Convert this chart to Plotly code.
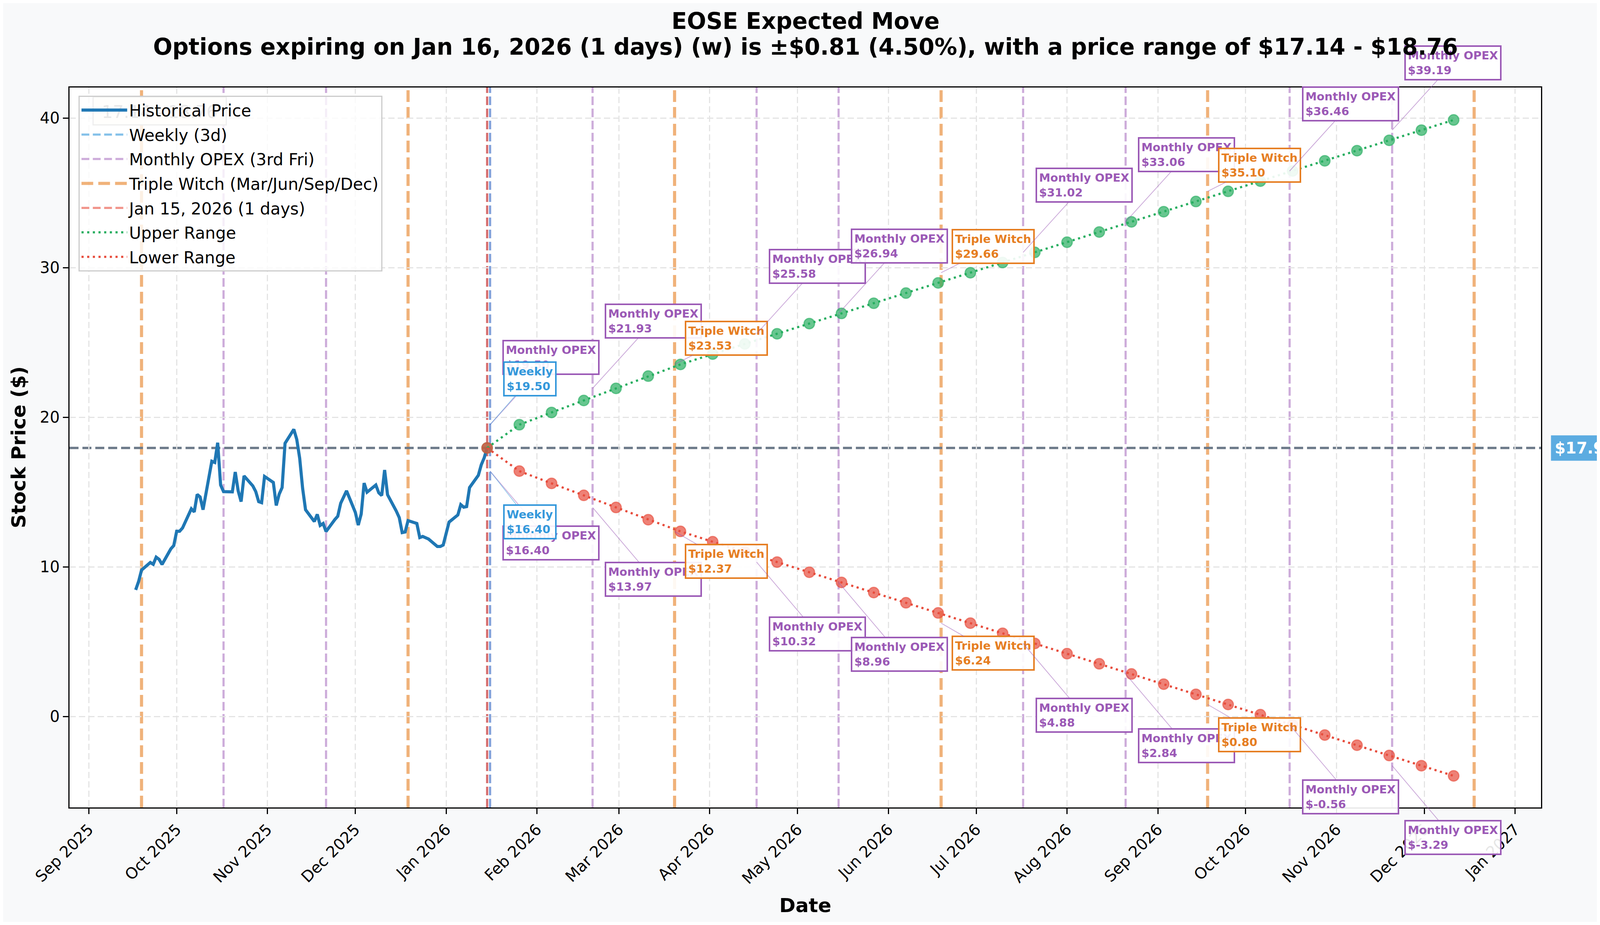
import plotly.graph_objects as go

# historical closes
hist_dates = [
    "2025-09-17", "2025-09-18", "2025-09-19", "2025-09-22", "2025-09-23", "2025-09-24",
    "2025-09-25", "2025-09-26", "2025-09-29", "2025-09-30", "2025-10-01", "2025-10-02",
    "2025-10-03", "2025-10-06", "2025-10-07", "2025-10-08", "2025-10-09", "2025-10-10",
    "2025-10-13", "2025-10-14", "2025-10-15", "2025-10-16", "2025-10-17", "2025-10-20",
    "2025-10-21", "2025-10-22", "2025-10-23", "2025-10-24", "2025-10-27", "2025-10-28",
    "2025-10-29", "2025-10-30", "2025-10-31", "2025-11-03", "2025-11-04", "2025-11-05",
    "2025-11-06", "2025-11-07", "2025-11-10", "2025-11-11", "2025-11-12", "2025-11-13",
    "2025-11-14", "2025-11-17", "2025-11-18", "2025-11-19", "2025-11-20", "2025-11-21",
    "2025-11-24", "2025-11-25", "2025-11-26", "2025-11-28", "2025-12-01", "2025-12-02",
    "2025-12-03", "2025-12-04", "2025-12-05", "2025-12-08", "2025-12-09", "2025-12-10",
    "2025-12-11", "2025-12-12", "2025-12-15", "2025-12-16", "2025-12-17", "2025-12-18",
    "2025-12-19", "2025-12-22", "2025-12-23", "2025-12-24", "2025-12-26", "2025-12-29",
    "2025-12-30", "2025-12-31", "2026-01-02", "2026-01-05", "2026-01-06", "2026-01-07",
    "2026-01-08", "2026-01-09", "2026-01-12", "2026-01-13", "2026-01-14", "2026-01-15",
]
hist_prices = [
    8.46, 9.02, 9.78, 10.29, 10.17, 10.65,
    10.50, 10.16, 11.20, 11.42, 12.38, 12.38,
    12.60, 13.88, 13.67, 14.84, 14.67, 13.82,
    17.06, 16.98, 18.30, 15.47, 15.03, 15.01,
    16.34, 15.08, 14.36, 16.08, 15.41, 15.03,
    14.36, 14.29, 16.04, 15.64, 14.10, 14.86,
    15.30, 18.26, 19.19, 18.52, 17.26, 15.25,
    13.82, 13.03, 13.51, 12.77, 12.90, 12.36,
    13.16, 13.38, 14.25, 15.08, 13.64, 12.79,
    13.53, 15.60, 14.99, 15.47, 14.95, 14.77,
    16.47, 14.82, 13.72, 13.29, 12.29, 12.33,
    13.09, 12.90, 11.96, 12.03, 11.86, 11.36,
    11.36, 11.46, 12.99, 13.47, 14.16, 13.99,
    14.03, 15.30, 16.12, 16.82, 17.29, 17.95,
]

# projected range points
range_dates = [
    "2026-01-15", "2026-01-26", "2026-02-06", "2026-02-17", "2026-02-28", "2026-03-11",
    "2026-03-22", "2026-04-02", "2026-04-13", "2026-04-24", "2026-05-05", "2026-05-16",
    "2026-05-27", "2026-06-07", "2026-06-18", "2026-06-29", "2026-07-10", "2026-07-21",
    "2026-08-01", "2026-08-12", "2026-08-23", "2026-09-03", "2026-09-14", "2026-09-25",
    "2026-10-06", "2026-10-17", "2026-10-28", "2026-11-08", "2026-11-19", "2026-11-30",
    "2026-12-11",
]
upper_range = [
    17.95, 19.50, 20.32, 21.12, 21.93, 22.75, 23.53, 24.22, 24.90, 25.58, 26.26,
    26.94, 27.62, 28.30, 28.98, 29.66, 30.34, 31.02, 31.70, 32.38, 33.06, 33.74,
    34.42, 35.10, 35.78, 36.46, 37.14, 37.82, 38.51, 39.19, 39.87,
]
lower_range = [
    17.95, 16.40, 15.58, 14.78, 13.97, 13.15, 12.37, 11.68, 11.00, 10.32, 9.64,
    8.96, 8.28, 7.60, 6.92, 6.24, 5.56, 4.88, 4.20, 3.52, 2.84, 2.16,
    1.48, 0.80, 0.12, -0.56, -1.24, -1.92, -2.61, -3.29, -3.97,
]

current_price = 17.95
today = "2026-01-15"
weekly_exp = "2026-01-16"

opex_dates = ["2025-10-17", "2025-11-21", "2026-01-16", "2026-02-20", "2026-04-17",
              "2026-05-15", "2026-07-17", "2026-08-21", "2026-10-16", "2026-11-20"]
witch_dates = ["2025-09-19", "2025-12-19", "2026-03-20", "2026-06-19", "2026-09-18",
               "2026-12-18"]

label_dates = ["2026-01-16", "2026-01-16", "2026-02-20", "2026-03-20", "2026-04-17",
               "2026-05-15", "2026-06-19", "2026-07-17", "2026-08-21", "2026-09-18",
               "2026-10-16", "2026-11-20"]
label_kinds = ["Monthly OPEX", "Weekly", "Monthly OPEX", "Triple Witch", "Monthly OPEX",
               "Monthly OPEX", "Triple Witch", "Monthly OPEX", "Monthly OPEX",
               "Triple Witch", "Monthly OPEX", "Monthly OPEX"]
label_upper = [19.50, 19.50, 21.93, 23.53, 25.58, 26.94, 29.66, 31.02, 33.06, 35.10,
               36.46, 39.19]
label_lower = [16.40, 16.40, 13.97, 12.37, 10.32, 8.96, 6.24, 4.88, 2.84, 0.80,
               -0.56, -3.29]

FONT = "DejaVu Sans"
OPEX_C = "#9b59b6"
WITCH_C = "#e67e22"
WEEK_C = "#3498db"

# kind -> colour, line rgba, box offsets (dx, dy up, dy down) in px
kind_style = {
    "Monthly OPEX": (OPEX_C, "rgba(155,89,182,0.5)", 156, -172, 184),
    "Triple Witch": (WITCH_C, "rgba(155,89,182,0.5)", 133, -67, 77),
    "Weekly": (WEEK_C, "rgba(52,152,219,0.5)", 102, -117, 130),
}

fig = go.Figure()

fig.add_trace(go.Scatter(x=hist_dates, y=hist_prices, mode="lines", name="Historical Price",
                         legendgroup="hist", line=dict(color="#1f77b4", width=8)))

# legend-only entries for the vertical markers
legend_lines = [
    ("Weekly (3d)", "rgba(52,152,219,0.6)", 5.5, "20px,9px"),
    ("Monthly OPEX (3rd Fri)", "rgba(155,89,182,0.5)", 5.5, "20px,9px"),
    ("Triple Witch (Mar/Jun/Sep/Dec)", "rgba(230,126,34,0.6)", 8, "30px,13px"),
    ("Jan 15, 2026 (1 days)", "rgba(231,76,60,0.6)", 5.5, "20px,9px"),
]
for name, col, w, dash in legend_lines:
    fig.add_trace(go.Scatter(x=[None], y=[None], mode="lines", name=name, legendgroup=name,
                             line=dict(color=col, width=w, dash=dash)))

# dots first, dotted lines on top
fig.add_trace(go.Scatter(x=range_dates, y=upper_range, mode="markers", showlegend=False,
                         marker=dict(size=27, color="rgba(39,174,96,0.7)",
                                     line=dict(color="rgba(39,174,96,0.6)", width=3))))
fig.add_trace(go.Scatter(x=range_dates, y=lower_range, mode="markers", showlegend=False,
                         marker=dict(size=27, color="rgba(231,76,60,0.7)",
                                     line=dict(color="rgba(231,76,60,0.6)", width=3))))
fig.add_trace(go.Scatter(x=range_dates, y=upper_range, mode="lines", name="Upper Range",
                         legendgroup="up", line=dict(color="#27ae60", width=5.5, dash="5.5px,9px")))
fig.add_trace(go.Scatter(x=range_dates, y=lower_range, mode="lines", name="Lower Range",
                         legendgroup="lo", line=dict(color="#e74c3c", width=5.5, dash="5.5px,9px")))

shapes = []
for d in witch_dates:
    shapes.append(dict(type="line", xref="x", yref="paper", x0=d, x1=d, y0=0, y1=1, layer="below",
                       line=dict(color="rgba(230,126,34,0.6)", width=8, dash="30px,13px")))
for d in opex_dates:
    shapes.append(dict(type="line", xref="x", yref="paper", x0=d, x1=d, y0=0, y1=1, layer="below",
                       line=dict(color="rgba(155,89,182,0.5)", width=5.5, dash="22px,9px")))
shapes.append(dict(type="line", xref="x", yref="paper", x0=weekly_exp, x1=weekly_exp, y0=0, y1=1,
                   layer="below", line=dict(color="rgba(52,152,219,0.5)", width=5.5, dash="22px,9px")))
shapes.append(dict(type="line", xref="x", yref="paper", x0=today, x1=today, y0=0, y1=1,
                   layer="below", line=dict(color="rgba(200,60,60,0.75)", width=5.5, dash="22px,9px")))
shapes.append(dict(type="line", xref="paper", yref="y", x0=0, x1=1, y0=current_price, y1=current_price,
                   layer="below", line=dict(color="#6c7a89", width=6, dash="23px,10px")))
# faint range badge sitting behind the legend
shapes.append(dict(type="rect", xref="paper", yref="paper", x0=0.016, x1=0.1065, y0=0.948, y1=0.987,
                   layer="above", fillcolor="rgba(255,250,235,0.9)", line=dict(color="#aaaaaa", width=3),
                   label=dict(text="17.14 - 18.76", font=dict(family=FONT, size=44, color="#8a8a8a"))))

annotations = []
for d, kind, up, lo in zip(label_dates, label_kinds, label_upper, label_lower):
    col, lcol, dx, dyu, dyd = kind_style[kind]
    for val, dy in ((up, dyu), (lo, dyd)):
        annotations.append(dict(
            x=d, y=val, xref="x", yref="y", ax=dx, ay=dy,
            text=f"{kind}<br>${val:.2f}", align="left",
            xanchor="center", yanchor="middle",
            showarrow=True, arrowhead=0, arrowwidth=2, arrowcolor=lcol, standoff=0,
            font=dict(family=FONT, size=29, color=col, weight="bold"),
            bgcolor="rgba(255,255,255,0.9)", bordercolor=col, borderwidth=4, borderpad=5,
        ))

annotations.append(dict(x=1.0066, y=current_price, xref="paper", yref="y", xanchor="left",
                        yanchor="middle", showarrow=False, text=f"${current_price:.2f}",
                        font=dict(family=FONT, size=40, color="white", weight="bold"),
                        bgcolor="rgba(52,152,219,0.8)", borderpad=9))

annotations.append(dict(x=0.5, y=1.0925, xref="paper", yref="paper", showarrow=False,
                        text="EOSE Expected Move", xanchor="center", yanchor="middle",
                        font=dict(family=FONT, size=58, color="black", weight="bold")))
annotations.append(dict(x=0.5, y=1.0566, xref="paper", yref="paper", showarrow=False,
                        text="Options expiring on Jan 16, 2026 (1 days) (w) is ±$0.81 (4.50%), "
                             "with a price range of $17.14 - $18.76",
                        xanchor="center", yanchor="middle",
                        font=dict(family=FONT, size=58, color="black", weight="bold")))
annotations.append(dict(x=-0.0346, y=0.5, xref="paper", yref="paper", showarrow=False,
                        text="Stock Price ($)", textangle=-90, xanchor="center", yanchor="middle",
                        font=dict(family=FONT, size=50, color="black", weight="bold")))
annotations.append(dict(x=0.5, y=-0.1362, xref="paper", yref="paper", showarrow=False,
                        text="Date", xanchor="center", yanchor="middle",
                        font=dict(family=FONT, size=50, color="black", weight="bold")))

# page body keeps its default 8px margin, so the figure is 16px smaller than the window
fig.update_layout(
    width=4157, height=2352,
    paper_bgcolor="#f8f9fa", plot_bgcolor="white",
    margin=dict(l=170, r=220, t=216, b=293, autoexpand=False),
    font=dict(family=FONT, size=40, color="black"),
    shapes=shapes, annotations=annotations,
    legend=dict(x=0.006, y=0.9886, xanchor="left", yanchor="top",
                bgcolor="rgba(255,255,255,0.8)", bordercolor="#cccccc", borderwidth=3,
                font=dict(family=FONT, size=42), itemwidth=117,
                traceorder="grouped", tracegroupgap=5),
    showlegend=True,
)

axis_common = dict(showline=True, linecolor="black", linewidth=3, mirror=True,
                   ticks="outside", ticklen=14, tickwidth=3, tickcolor="black",
                   showgrid=True, gridcolor="#e4e4e4", gridwidth=3, griddash="16px,8px",
                   zeroline=False, tickfont=dict(family=FONT, size=40, color="black"))

fig.update_xaxes(type="date", range=["2025-08-25 10:00", "2027-01-09 20:00"],
                 tick0="2025-09-01", dtick="M1", tickformat="%b %Y", tickangle=-45,
                 **axis_common)
fig.update_yaxes(range=[-6.08, 42.04], tick0=0, dtick=10, **axis_common)

fig.write_html("out.html")
